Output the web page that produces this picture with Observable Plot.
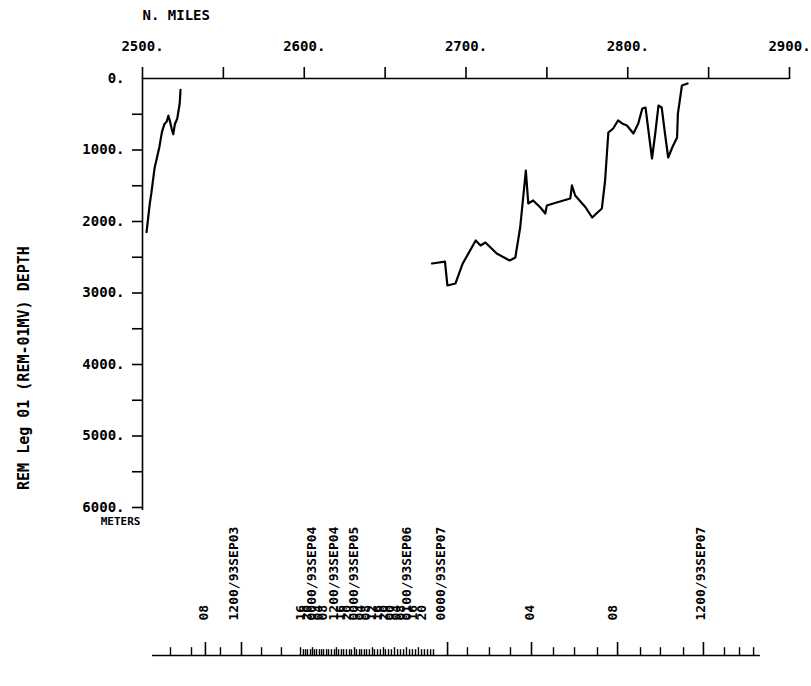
<!DOCTYPE html>
<html><head><meta charset="utf-8">
<script src="https://cdn.jsdelivr.net/npm/d3@7"></script>
<script src="https://cdn.jsdelivr.net/npm/@observablehq/plot@0.6"></script>
<style>
body{margin:0;background:#fff;}
#chart svg{display:block}
</style></head><body><div id="chart"></div>
<script>
// ---------- data ----------
const milesA = [2502.5, 2503.5, 2504.5, 2505.5, 2506.5, 2507.5, 2509, 2510.5, 2512, 2513.5, 2515, 2516, 2517, 2518, 2519, 2520, 2521.5, 2523, 2523.5];
const depthA = [2150, 1950, 1750, 1600, 1420, 1250, 1100, 950, 750, 640, 600, 520, 600, 700, 780, 640, 560, 350, 160];

const milesB = [2679, 2687, 2688.5, 2693.5, 2698, 2706, 2709, 2712, 2719, 2727, 2730.5, 2733.5, 2737, 2738.5, 2741.5, 2746, 2749, 2750, 2756, 2764.5, 2765.5, 2767.5, 2774, 2778, 2784, 2786, 2788, 2791, 2794, 2796.5, 2799.5, 2803.5, 2806.5, 2809, 2811, 2813, 2815, 2817, 2819, 2821, 2823, 2825, 2827.5, 2830.5, 2831, 2833.5, 2837];
const depthB = [2587, 2560, 2895, 2867, 2587, 2266, 2336, 2294, 2448, 2545, 2503, 2084, 1287, 1748, 1706, 1804, 1888, 1776, 1734, 1678, 1496, 1636, 1804, 1944, 1818, 1427, 755, 699, 587, 629, 657, 769, 629, 420, 406, 769, 1119, 769, 378, 406, 769, 1105, 965, 825, 490, 98, 70];

const xTickValues = [2500, 2550, 2600, 2650, 2700, 2750, 2800, 2850, 2900];
const xLabelValues = [2500, 2600, 2700, 2800, 2900];
const yTickValues = [500, 1000, 1500, 2000, 2500, 3000, 3500, 4000, 4500, 5000, 5500, 6000];
const yLabelValues = [0, 1000, 2000, 3000, 4000, 5000, 6000];

const xTitle = "N. MILES";
const yTitle = "REM Leg 01 (REM-01MV) DEPTH";
const yUnit = "METERS";

// time marks along the track (positions in n. miles)
const dateLabels = ["1200/93SEP03", "0000/93SEP04", "1200/93SEP04", "0000/93SEP05", "0100/93SEP06", "0000/93SEP07", "1200/93SEP07"];
const dateMiles = [2556.3, 2604.5, 2618.1, 2630.4, 2663.2, 2684.2, 2845.0];
const hourLabels = ["08", "16", "20", "04", "08", "16", "20", "04", "08", "12", "16", "20", "00", "04", "08", "16", "20", "04", "08"];
const hourMiles = [2537.7, 2597.7, 2601.4, 2608.2, 2611.3, 2622.4, 2626.1, 2634.2, 2637.9, 2641.6, 2645.3, 2649.0, 2652.7, 2656.4, 2659.5, 2666.9, 2672.5, 2739.3, 2790.6];

const majorTickMiles = [2538.9, 2561.2, 2688.6, 2740.5, 2793.7, 2846.8];
const minorTickMiles = [2517.3, 2530.3, 2548.2, 2573.6, 2585.9, 2597.7, 2605.1, 2619.9, 2631.1, 2642.2, 2649.0, 2655.8, 2663.2, 2670.6, 2700.9, 2714.5, 2727.5, 2754.1, 2767.1, 2781.3, 2807.9, 2820.2, 2834.5, 2859.8, 2869.1, 2877.8];
const denseTickMiles = [2599.5, 2600.8, 2602.0, 2603.9, 2606.3, 2607.6, 2609.4, 2610.7, 2611.9, 2613.8, 2615.0, 2616.8, 2618.7, 2621.2, 2623.0, 2624.3, 2626.1, 2628.0, 2629.2, 2632.3, 2634.2, 2635.4, 2637.2, 2638.5, 2640.3, 2643.4, 2645.3, 2647.1, 2650.2, 2652.1, 2653.9, 2657.7, 2659.5, 2661.4, 2665.1, 2666.9, 2668.8, 2672.5, 2674.3, 2676.2, 2678.1, 2679.9];
const trackStart = 2506.2, trackEnd = 2882.0;

// ---------- build ----------
const profile = [
  ...milesA.map((m, i) => ({miles: m, depth: depthA[i], seg: "A"})),
  ...milesB.map((m, i) => ({miles: m, depth: depthB[i], seg: "B"}))
];
const dates = dateLabels.map((t, i) => ({label: t, miles: dateMiles[i]}));
const hours = hourLabels.map((t, i) => ({label: t, miles: hourMiles[i]}));

const font = {fontFamily: "'DejaVu Sans Mono', monospace", fontWeight: "bold", fontSize: "14px", color: "black", background: "white", overflow: "visible"};

const topChart = Plot.plot({
  width: 811, height: 520,
  marginTop: 78, marginBottom: 13, marginLeft: 142, marginRight: 22,
  x: {domain: [2500, 2900], axis: null, label: null},
  y: {domain: [0, 6000], reverse: true, axis: null, label: null},
  style: font,
  marks: [
    Plot.ruleY([0], {x1: 2500, x2: 2900, stroke: "black", strokeWidth: 1.6}),
    Plot.ruleX([2500], {y1: 0, y2: 6000, insetBottom: -3, stroke: "black", strokeWidth: 1.6}),
    Plot.axisX({anchor: "top", ticks: xTickValues, tickSize: 12, tickFormat: () => "", label: null, strokeWidth: 1.6}),
    Plot.text(xLabelValues, {x: d => d, y: 0, dy: -32, text: d => d + ".", fontSize: 14}),
    Plot.axisY({anchor: "left", ticks: yTickValues, tickSize: 10, tickFormat: () => "", label: null, strokeWidth: 1.6}),
    Plot.text(yLabelValues, {x: 2500, y: d => d, dx: -18, textAnchor: "end", text: d => d + ".", fontSize: 14}),
    Plot.text([xTitle], {x: 2500, y: 0, dy: -63, textAnchor: "start", fontSize: 14}),
    Plot.text([yUnit], {x: 2500, y: 6000, dx: -2, dy: 14, textAnchor: "end", fontSize: 11}),
    Plot.text([yTitle], {x: 2500, y: 4050, dx: -118, rotate: -90, fontSize: 15}),
    Plot.line(profile, {x: "miles", y: "depth", z: "seg", stroke: "black", strokeWidth: 2.2, strokeLinejoin: "round"})
  ]
});

const strip = Plot.plot({
  width: 811, height: 166,
  marginTop: 122, marginBottom: 31, marginLeft: 142, marginRight: 22,
  x: {domain: [2500, 2900], axis: null, label: null},
  y: {domain: [0, 1], axis: null, label: null},
  style: font,
  marks: [
    Plot.ruleY([0], {x1: trackStart, x2: trackEnd, stroke: "black", strokeWidth: 1.6}),
    Plot.ruleX(majorTickMiles, {x: d => d, y1: 0, y2: 1, stroke: "black", strokeWidth: 1.6}),
    Plot.ruleX(minorTickMiles, {x: d => d, y1: 0, y2: 0.6, stroke: "black", strokeWidth: 1.4}),
    Plot.ruleX(denseTickMiles, {x: d => d, y1: 0, y2: 0.45, stroke: "black", strokeWidth: 1.4}),
    Plot.text(dates, {x: "miles", y: 0, dy: -35, rotate: -90, textAnchor: "start", text: "label", fontSize: 13}),
    Plot.text(hours, {x: "miles", y: 0, dy: -35, rotate: -90, textAnchor: "start", text: "label", fontSize: 13})
  ]
});

const root = document.getElementById("chart");
root.appendChild(topChart);
root.appendChild(strip);
</script>
</body></html>
